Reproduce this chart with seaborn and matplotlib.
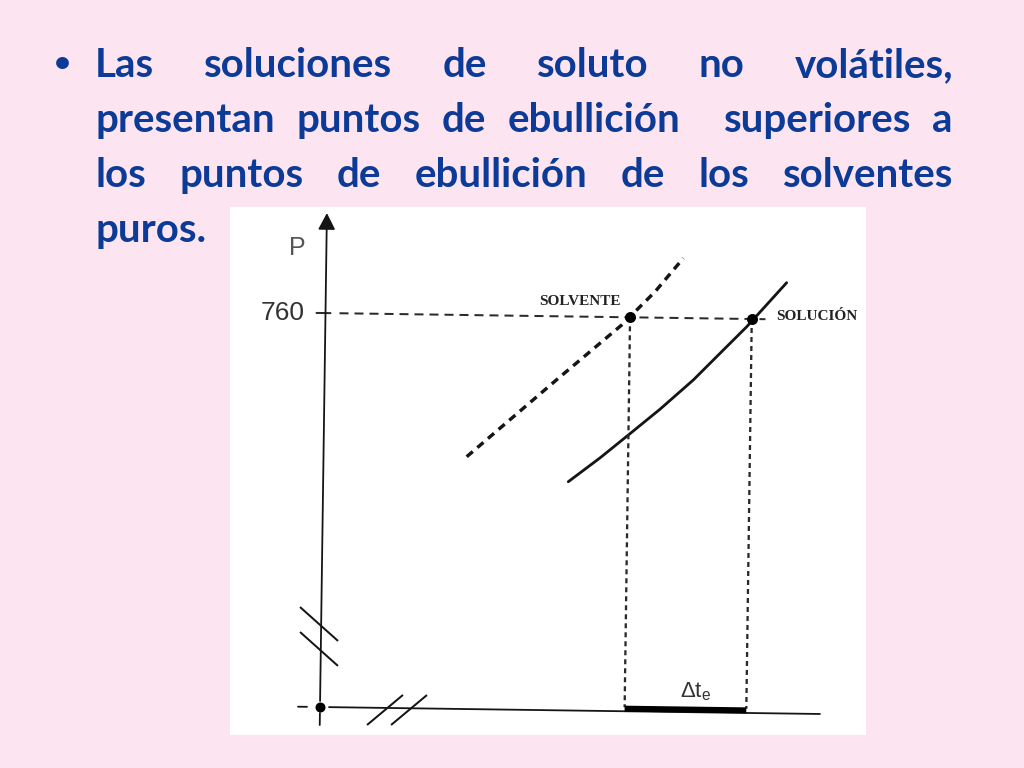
import matplotlib
matplotlib.use("Agg")
import matplotlib.pyplot as plt
import seaborn as sns
import pandas as pd
from matplotlib.transforms import Affine2D

# ---------------- data ----------------
# Slide text (justified lines; "" marks the double space)
line1 = ["Las", "soluciones", "de", "soluto", "no", "volátiles,"]
line2 = ["presentan", "puntos", "de", "ebullición", "", "superiores", "a"]
line3 = ["los", "puntos", "de", "ebullición", "de", "los", "solventes"]
line4 = ["puros."]

# Vapour-pressure curves (temperature in arbitrary units, pressure in mmHg)
solvent_T = [143.2, 233.7, 296.3, 329.2, 357.0]
solvent_P = [486.7, 640.4, 744.9, 810.0, 875.4]
solution_T = [245.1, 276.5, 304.5, 335.8, 368.7, 398.3, 421.4, 460.7]
solution_P = [441.2, 488.0, 532.9, 583.5, 640.8, 699.4, 745.0, 831.0]

P_ref = 760
Tb_solvent = 304.6
Tb_solution = 426.3
point_labels = ["SOLVENTE", "SOLUCIÓN"]
tick_label = "760"
y_label = "P"
delta_label = r"$\Delta t_e$"

# axis pieces
p_axis_top = 952.9
p_axis_low = [-34.7, -11.6]
p_axis_up_start = 11.6
t_axis_left = [-22, -13]
t_axis_right = [9, 500]
ref_line_T = [14, 440]
ref_tick_T = [-9, 5]
drop_bottom_P = 8
bar_P = 5
brk_p1_T, brk_p1_P = [-21.4, 17.1], [192.3, 127.9]
brk_p2_T, brk_p2_P = [-21.0, 17.4], [144.1, 79.7]
brk_t1_T, brk_t1_P = [47.3, 82.8], [-33.4, 25.5]
brk_t2_T, brk_t2_P = [71.3, 106.8], [-32.8, 26.0]

# ---------------- style ----------------
BG = "#FDE4F1"
BLUE = "#0B3A97"
INK = "#151515"
PX = 0.72  # points per pixel at dpi 100

sns.set_theme(style="white")
plt.rcParams["font.family"] = ["Liberation Sans", "DejaVu Sans"]
plt.rcParams["mathtext.fontset"] = "custom"
plt.rcParams["mathtext.rm"] = "Liberation Sans"
plt.rcParams["mathtext.it"] = "Liberation Sans"
plt.rcParams["lines.scale_dashes"] = False

W, H = 1024, 768
fig = plt.figure(figsize=(W / 100, H / 100), dpi=100, facecolor=BG)

# ---------------- diagram ----------------
ax = fig.add_axes([230 / W, 1 - 735 / H, 636 / W, 528 / H])
ax.set_facecolor("white")
ax.set_xlim(-90, 546)
ax.set_ylim(-54.0, 964.5)
ax.set_xticks([])
ax.set_yticks([])
for s in ax.spines.values():
    s.set_visible(False)

df_solv = pd.DataFrame({"T": solvent_T, "P": solvent_P})
df_solu = pd.DataFrame({"T": solution_T, "P": solution_P})
sns.lineplot(data=df_solv, x="T", y="P", ax=ax, sort=False, errorbar=None,
             color=INK, lw=3.4 * PX, linestyle=(0, (8 * PX, 6 * PX)))
sns.lineplot(data=df_solu, x="T", y="P", ax=ax, sort=False, errorbar=None,
             color=INK, lw=2.8 * PX)

# reference dashed line at 760 and tick
ax.plot(ref_line_T, [P_ref, P_ref], color="#2a2a2a", lw=2.0 * PX,
        linestyle=(0, (9 * PX, 6 * PX)))
ax.plot(ref_tick_T, [P_ref, P_ref], color="#2a2a2a", lw=2.0 * PX)

# vertical drop lines
for tb in (Tb_solvent, Tb_solution):
    ax.plot([tb, tb], [P_ref, drop_bottom_P], color="#2a2a2a", lw=2.3 * PX,
            linestyle=(0, (5 * PX, 4 * PX)))

# axes lines
ax.plot([0, 0], p_axis_low, color=INK, lw=1.8 * PX)
ax.plot(t_axis_left, [0, 0], color=INK, lw=1.8 * PX)
ax.plot(t_axis_right, [0, 0], color=INK, lw=1.8 * PX)

# break marks
for bt, bp in ((brk_p1_T, brk_p1_P), (brk_p2_T, brk_p2_P),
               (brk_t1_T, brk_t1_P), (brk_t2_T, brk_t2_P)):
    ax.plot(bt, bp, color=INK, lw=2.0 * PX, solid_capstyle="butt")

# delta-t bar
ax.plot([Tb_solvent, Tb_solution], [bar_P, bar_P], color="black",
        lw=6 * PX, solid_capstyle="butt")

# points
sns.scatterplot(x=[Tb_solvent, Tb_solution], y=[P_ref, P_ref], ax=ax,
                s=(11 * PX) ** 2, color="black", linewidth=0, zorder=5)
sns.scatterplot(x=[0], y=[0], ax=ax, s=(10 * PX) ** 2, color="black",
                linewidth=0, zorder=5)

# labels
ax.text(254.3, 788.2, point_labels[0], ha="center", va="center",
        family="Liberation Serif", weight="bold", fontsize=11, color="#222222")
ax.text(450.6, 765.6, point_labels[1], ha="left", va="center",
        family="Liberation Serif", weight="bold", fontsize=11, color="#222222")
ax.text(-42.5, 759, tick_label, ha="center", va="center", fontsize=19,
        color="#333333")
ax.text(-29.4, 884.8, y_label, ha="center", va="center", fontsize=18,
        color="#555555")
ax.text(374.8, 40, delta_label, ha="center", va="center", fontsize=16,
        color="#333333")

# slight rotation of the scanned drawing
rot = Affine2D().rotate_deg_around(320, H - 707, -0.8)
tr = ax.transData + rot
for ln in ax.lines:
    ln.set_transform(tr)
for tx in ax.texts:
    tx.set_transform(tr)
for c in ax.collections:
    c.set_offset_transform(tr)

# vertical axis with arrow head
ax.annotate("", xy=(0, p_axis_top), xytext=(0, p_axis_up_start),
            xycoords=tr, textcoords=tr,
            arrowprops=dict(arrowstyle="-|>,head_length=1.0,head_width=0.52",
                            color=INK, lw=1.8 * PX, shrinkA=0, shrinkB=0,
                            mutation_scale=10))

# ---------------- slide text ----------------
renderer = fig.canvas.get_renderer()
TXT = dict(family=["Lato", "DejaVu Sans"], weight="bold", fontsize=29,
           color=BLUE, va="baseline", ha="left")


def place_line(words, baseline, left=95, right=953, justify=True):
    arts = []
    widths = []
    for w in words:
        if w:
            t = fig.text(0, 1 - baseline / H, w, **TXT)
            widths.append(t.get_window_extent(renderer).width)
            arts.append(t)
        else:
            widths.append(0.0)
            arts.append(None)
    n_gaps = len(words) - 1
    if justify and n_gaps > 0:
        gap = (right - left - sum(widths)) / n_gaps
    else:
        gap = 0.0
    x = left
    for t, w in zip(arts, widths):
        if t is not None:
            t.set_x(x / W)
        x += w + gap


bullet = dict(TXT)
bullet.update(fontsize=21, ha="center")
fig.text(62 / W, 1 - 72 / H, "•", **bullet)
place_line(line1, 77)
place_line(line2, 132)
place_line(line3, 187)
place_line(line4, 242, justify=False)

fig.savefig("out.png", dpi=100, facecolor=BG)
